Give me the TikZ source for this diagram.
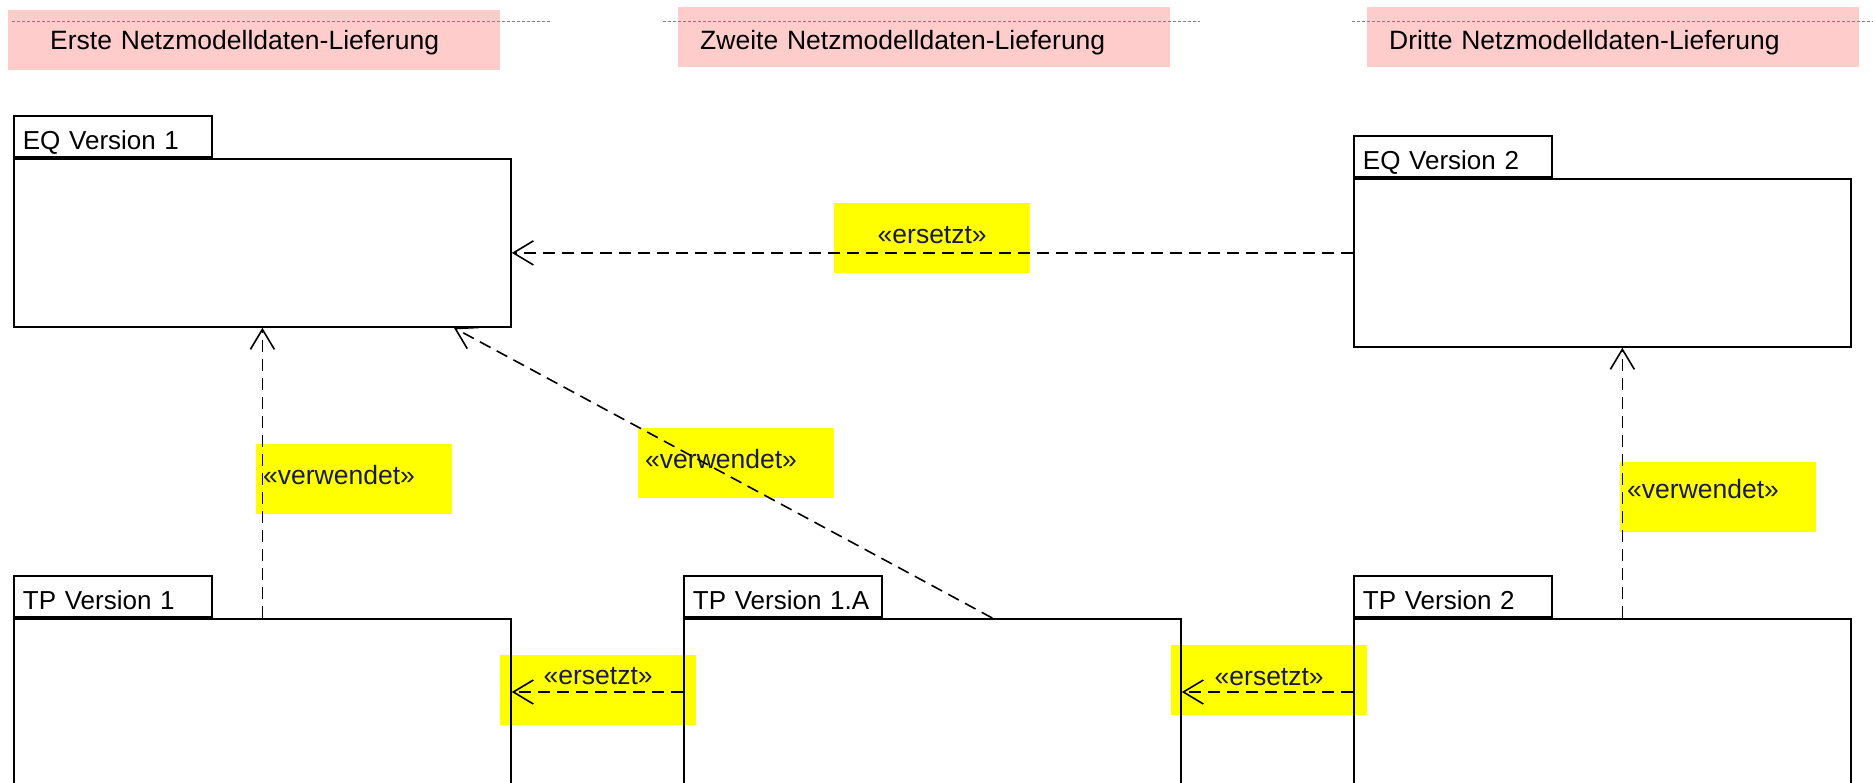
\documentclass[tikz,border=0pt]{standalone}
\usepackage{fontspec}
\setmainfont{Liberation Sans}
\usetikzlibrary{arrows.meta,positioning,calc}

\definecolor{lanepink}{RGB}{255,204,204}
\definecolor{noteyellow}{RGB}{255,255,0}
\definecolor{stereo}{RGB}{25,25,70}

\begin{document}
\begin{tikzpicture}[x=1pt,y=-1pt,
  every node/.style={font=\fontsize{26}{31}\selectfont},
  lane/.style={fill=lanepink,font=\fontsize{26.5}{31}\selectfont,minimum height=60pt,inner xsep=22pt,text width=448pt,text height=31pt,text depth=5.5pt,align=left,anchor=north west},
  pkg/.style={draw,line width=1.8pt,inner sep=0pt,minimum width=497pt,minimum height=168pt,anchor=north west},
  pkgtab/.style={draw,line width=1.8pt,minimum height=41pt,inner xsep=9pt,text width=180pt,text height=25pt,text depth=0pt,align=left},
  note/.style={fill=noteyellow,text=stereo,font=\fontsize{26.5}{31}\selectfont,minimum height=70pt,inner xsep=7pt,text width=182pt,text height=20pt,text depth=10pt,anchor=north west},
  dep/.style={line width=1.6pt,dash pattern=on 12pt off 7pt,-{Straight Barb[length=20pt,width=24pt]}}]
\path[use as bounding box,clip] (0,0) rectangle (1873,782);

% delivery lanes
\node[lane,inner xsep=42pt,text width=408pt,text height=24pt] (l1) at (8,10) {Erste Netzmodelldaten-Lieferung};
\node[lane] (l2) at (678,7) {Zweite Netzmodelldaten-Lieferung};
\node[lane] (l3) at (1367,7) {Dritte Netzmodelldaten-Lieferung};
\draw[gray,line width=1pt,dash pattern=on 3pt off 2pt] (12,21.5) -- (550,21.5);
\draw[gray,line width=1pt,dash pattern=on 3pt off 2pt] (663,21.5) -- (1200,21.5);
\draw[gray,line width=1pt,dash pattern=on 3pt off 2pt] (1352,21.5) -- (1873,21.5);

% stereotype labels
\node[note,align=center] (n1) at (834,203) {«ersetzt»};
\node[note,align=left] (n2) at (256,444) {«verwendet»};
\node[note,align=left] (n3) at (638,428) {«verwendet»};
\node[note,align=center,text depth=32pt] (n4) at (500,655) {«ersetzt»};
\node[note,align=center] (n5) at (1171,645) {«ersetzt»};
\node[note,align=left,text depth=18pt] (n6) at (1620,462) {«verwendet»};

% packages
\node[pkg] (eq1) at (13,158) {};
\node[pkgtab,above right=0pt and 0pt of eq1.north west] (eq1t) {EQ Version 1};
\node[pkg] (eq2) at (1353,178) {};
\node[pkgtab,above right=0pt and 0pt of eq2.north west] (eq2t) {EQ Version 2};
\node[pkg,minimum height=300pt] (tp1) at (13,618) {};
\node[pkgtab,above right=0pt and 0pt of tp1.north west] (tp1t) {TP Version 1};
\node[pkg,minimum height=300pt] (tp1a) at (683,618) {};
\node[pkgtab,above right=0pt and 0pt of tp1a.north west] (tp1at) {TP Version 1.A};
\node[pkg,minimum height=300pt] (tp2) at (1353,618) {};
\node[pkgtab,above right=0pt and 0pt of tp2.north west] (tp2t) {TP Version 2};

% dependencies
\coordinate (m1) at ($(eq1.east)!.5!(eq2.west)$);
\coordinate (s1) at ($(tp1a.north west)!.62!(tp1a.north east)$);
\coordinate (s2) at ($(tp2.north west)!.54!(tp2.north east)$);
\draw[dep] (eq2.west |- m1) -- (eq1.east |- m1);
\draw[dep] (tp1.north) -- (eq1.south);
\draw[dep] (s1) -- ($(eq1.south west)!.884!(eq1.south east)$);
\draw[dep] ([yshift=-74pt]tp1a.north west) -- ([yshift=-74pt]tp1.north east);
\draw[dep] ([yshift=-74pt]tp2.north west) -- ([yshift=-74pt]tp1a.north east);
\draw[dep] (s2) -- (s2 |- eq2.south);
\end{tikzpicture}
\end{document}
